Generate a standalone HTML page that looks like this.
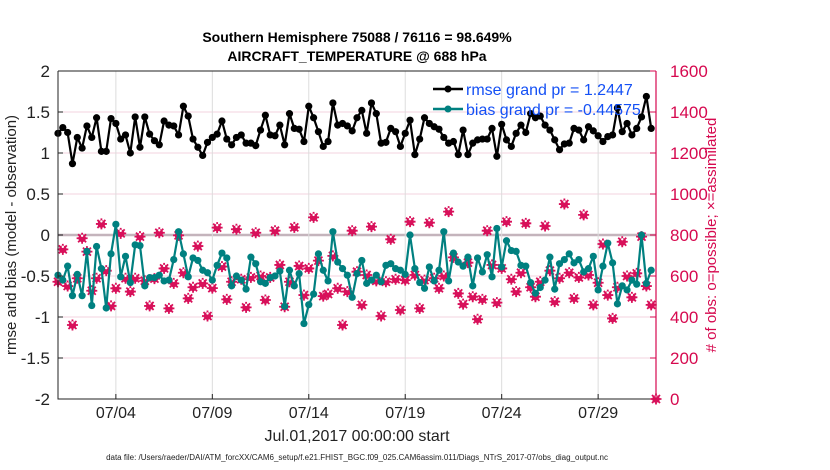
<!DOCTYPE html>
<html><head><meta charset="utf-8"><style>
html,body{margin:0;padding:0;background:#fff;}
svg{display:block;font-family:"Liberation Sans",Arial,sans-serif;}
</style></head><body>
<svg id="chart" width="830" height="470" viewBox="0 0 830 470">
<text x="357" y="42" text-anchor="middle" font-size="14" font-weight="bold">Southern Hemisphere 75088 / 76116 = 98.649%</text>
<text x="357" y="61" text-anchor="middle" font-size="14" font-weight="bold">AIRCRAFT_TEMPERATURE @ 688 hPa</text>
<g id="grid"></g>
<g id="marks"></g>
<g id="axes"></g>
<text transform="translate(16,235) rotate(-90)" text-anchor="middle" font-size="15" fill="#222">rmse and bias (model - observation)</text>
<text transform="translate(716,235) rotate(-90)" text-anchor="middle" font-size="15" fill="#d6094f"># of obs: o=possible; ×=assimilated</text>
<text x="357" y="441" text-anchor="middle" font-size="16" fill="#222">Jul.01,2017 00:00:00 start</text>
<text x="357" y="460" text-anchor="middle" font-size="8" fill="#222">data file: /Users/raeder/DAI/ATM_forcXX/CAM6_setup/f.e21.FHIST_BGC.f09_025.CAM6assim.011/Diags_NTrS_2017-07/obs_diag_output.nc</text>
<g>
<line x1="433" y1="89" x2="463" y2="89" stroke="#000" stroke-width="2.5"/>
<circle cx="448" cy="89" r="3.5" fill="#000"/>
<text x="466" y="95" font-size="16" fill="#1450f5">rmse grand pr = 1.2447</text>
<line x1="433" y1="109" x2="463" y2="109" stroke="#008080" stroke-width="2.5"/>
<circle cx="448" cy="109" r="3.5" fill="#008080"/>
<text x="466" y="115" font-size="16" fill="#1450f5">bias grand pr = -0.44575</text>
</g>
</svg>
<script>
const rmse=[1.24,1.31,1.25,0.87,1.19,1.06,1.33,1.19,1.43,1.02,1.02,1.42,1.36,1.17,1.22,1.00,1.44,1.07,1.44,1.23,1.15,1.10,1.39,1.34,1.33,1.22,1.57,1.45,1.17,1.07,0.97,1.13,1.19,1.23,1.39,1.17,1.10,1.19,1.22,1.12,1.12,1.09,1.28,1.46,1.22,1.21,1.34,1.10,1.48,1.30,1.29,1.14,1.57,1.43,1.26,1.08,1.14,1.61,1.34,
1.36,1.33,1.27,1.43,1.52,1.24,1.61,1.48,1.12,1.13,1.30,1.26,1.08,1.24,1.40,0.98,1.17,1.43,1.36,1.32,1.29,1.19,1.12,1.14,0.98,1.28,0.98,1.12,1.16,1.17,1.17,1.30,0.96,1.35,1.16,1.08,1.24,1.34,1.25,1.48,1.43,1.45,1.34,1.28,1.16,1.04,1.11,1.12,1.30,1.28,1.16,1.32,1.27,1.21,1.14,1.20,1.22,1.55,
1.26,1.36,1.22,1.30,1.44,1.69,1.30];
const bias=[-0.49,-0.55,-0.38,-0.74,-0.48,-0.74,-0.20,-0.86,-0.14,-0.41,-0.89,-0.23,0.13,-0.51,-0.26,-0.58,-0.12,-0.13,-0.62,-0.52,-0.52,-0.49,-0.56,-0.55,-0.30,0.04,-0.23,-0.51,-0.28,-0.31,-0.43,-0.46,-0.55,-0.37,-0.22,-0.28,-0.62,-0.50,-0.55,-0.66,-0.27,-0.35,-0.57,
-0.59,-0.52,-0.50,-0.44,-0.87,-0.43,-0.62,-0.47,-1.08,-0.85,-0.72,-0.23,-0.43,-0.56,0.04,-0.33,-0.41,-0.49,-0.76,-0.47,-0.31,-0.59,-0.55,-0.49,-0.57,-0.37,-0.35,-0.41,-0.43,-0.48,0.00,-0.41,-0.58,-0.65,-0.39,-0.56,-0.43,0.04,-0.56,-0.22,-0.33,
-0.38,-0.27,-0.62,-0.28,-0.45,-0.24,-0.51,0.08,-0.39,-0.07,-0.19,-0.20,-0.37,-0.38,-0.58,-0.71,-0.64,-0.55,-0.27,-0.66,-0.35,-0.30,-0.23,-0.34,-0.30,-0.45,-0.41,-0.26,-0.67,-0.38,-0.10,-0.34,-0.84,-0.62,-0.67,-0.55,-0.60,0.00,-0.59,-0.43];
const nobs=[572,730,551,361,589,784,719,528,589,854,626,454,540,808,589,524,589,792,577,454,587,811,637,442,564,798,616,491,545,746,564,405,541,836,646,486,572,828,584,447,593,811,600,483,
593,821,654,450,572,837,649,507,637,886,675,502,512,698,540,361,524,821,621,459,605,841,576,405,572,779,584,434,580,865,605,442,580,860,589,540,600,914,691,515,463,
665,499,389,486,821,654,470,637,865,584,524,616,857,545,499,572,844,626,475,589,951,616,491,593,898,605,459,567,756,507,393,545,767,600,496,613,792,551,459,0];
const xTickLabels=["07/04","07/09","07/14","07/19","07/24","07/29"];
const xTickDays=[3,8,13,18,23,28];
const yTicks=[-2,-1.5,-1,-0.5,0,0.5,1,1.5,2];
const yTickLabels=["-2","-1.5","-1","-0.5","0","0.5","1","1.5","2"];
const rTicks=[0,200,400,600,800,1000,1200,1400,1600];
const X0=58,X1=656,Y0=71,Y1=399,DAYS=31;
const xs=d=>X0+(X1-X0)*d/DAYS;
const ys=v=>Y1-(v+2)/4*(Y1-Y0);
const yr=c=>Y1-c/1600*(Y1-Y0);
const NS="http://www.w3.org/2000/svg";
function mk(tag,attrs,parent){const e=document.createElementNS(NS,tag);for(const k in attrs)e.setAttribute(k,attrs[k]);parent.appendChild(e);return e;}
const grid=document.getElementById('grid'),marks=document.getElementById('marks'),axes=document.getElementById('axes');
yTicks.forEach((v,i)=>{if(v===-2||v===2)return;const l=mk('line',{x1:X0,x2:X1,y1:ys(v),y2:ys(v),stroke:v===0?'#c4b4bc':'#f3d3df','stroke-width':v===0?2.5:1},grid);

});
xTickDays.forEach(d=>{const l=mk('line',{x1:xs(d),x2:xs(d),y1:Y0,y2:Y1,stroke:'#dcdcdc','stroke-width':1},grid);

});
const tOf=i=>i*0.25;
function star(cx,cy,name){const g=mk('g',{},marks);


mk('circle',{cx:cx,cy:cy,r:3.8,fill:'#d8105a'},g);
mk('path',{d:`M${cx-5.5} ${cy}H${cx+5.5}M${cx} ${cy-5.5}V${cy+5.5}M${cx-4} ${cy-4}L${cx+4} ${cy+4}M${cx-4} ${cy+4}L${cx+4} ${cy-4}`,stroke:'#d8105a','stroke-width':1.8},g);
mk('circle',{cx:cx,cy:cy-2.5,r:1.2,fill:'#fff'},g);}
nobs.forEach((c,i)=>star(xs(tOf(i)),yr(c),'obs-count-marker'));
function series(arr,color,name){const p=arr.map((v,i)=>xs(tOf(i)).toFixed(1)+','+ys(v).toFixed(1)).join(' ');
const pl=mk('polyline',{points:p,fill:'none',stroke:color,'stroke-width':2.2,'stroke-linejoin':'round'},marks);


arr.forEach((v,i)=>{const c=mk('circle',{cx:xs(tOf(i)),cy:ys(v),r:3.6,fill:color},marks);

});}
series(bias,'#008080','bias');
series(rmse,'#000000','rmse');
const box=mk('path',{d:`M${X0} ${Y0}H${X1}M${X0} ${Y0}V${Y1}H${X1}`,stroke:'#222',fill:'none','stroke-width':1},axes);


const ra=mk('line',{x1:X1,x2:X1,y1:Y0,y2:Y1,stroke:'#d6094f','stroke-width':1.2},axes);


yTicks.forEach((v,i)=>{const t=mk('line',{x1:X0,x2:X0+5,y1:ys(v),y2:ys(v),stroke:'#222'},axes);


const tx=mk('text',{x:X0-8,y:ys(v)+6,'text-anchor':'end','font-size':17,fill:'#222'},axes);tx.textContent=yTickLabels[i];

});
rTicks.forEach(c=>{const t=mk('line',{x1:X1-6,x2:X1,y1:yr(c),y2:yr(c),stroke:'#d6094f'},axes);


const tx=mk('text',{x:X1+14,y:yr(c)+6,'font-size':17,fill:'#d6094f'},axes);tx.textContent=String(c);

});
xTickDays.forEach((d,i)=>{const t=mk('line',{x1:xs(d),x2:xs(d),y1:Y1-5,y2:Y1,stroke:'#222'},axes);


const tx=mk('text',{x:xs(d),y:418,'text-anchor':'middle','font-size':16,fill:'#222'},axes);tx.textContent=xTickLabels[i];

});
</script>
</body></html>
